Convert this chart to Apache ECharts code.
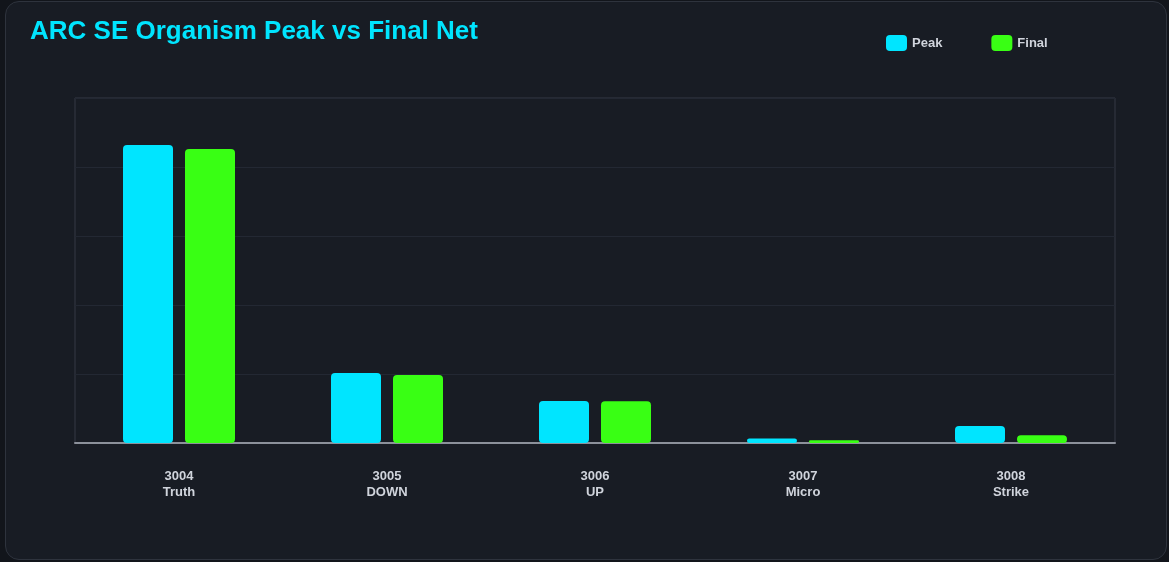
<!DOCTYPE html>
<html>
<head>
<meta charset="utf-8">
<style>
html, body {
  margin: 0;
  padding: 0;
  width: 100%;
  height: 100%;
  background: #12151b;
  overflow: hidden;
}
.card {
  position: absolute;
  left: 5px;
  top: 1px;
  width: 1160px;
  height: 557px;
  background: #181c24;
  border: 1px solid #2e333d;
  border-radius: 14px;
}
#myChart {
  position: absolute;
  left: 0;
  top: 0;
  width: 1169px;
  height: 562px;
}
</style>
<script src="https://cdn.jsdelivr.net/npm/echarts@6/dist/echarts.min.js"></script>
</head>
<body>
<div class="card"></div>
<div id="myChart"></div>
<script>
const categories = ['3004\nTruth', '3005\nDOWN', '3006\nUP', '3007\nMicro', '3008\nStrike']
const peakValues = [216, 50.7, 30.4, 3.3, 12.3]
const finalValues = [213, 49.3, 30.2, 2.0, 5.6]

let myChart = echarts.init(document.getElementById('myChart'))
myChart.setOption({
  backgroundColor: 'transparent',
  title: {
    text: 'ARC SE Organism Peak vs Final Net',
    left: 25,
    top: 14,
    textStyle: {
      color: '#00e5ff',
      fontSize: 26,
      fontWeight: 'bold',
      fontFamily: 'Liberation Sans, Arial, sans-serif'
    }
  },
  legend: {
    data: ['Peak', 'Final'],
    left: 881,
    top: 30,
    itemWidth: 21,
    itemHeight: 16,
    itemGap: 49,
    itemTextGap: 6,
    icon: 'roundRect',
    textStyle: {
      color: '#d0d4dc',
      fontSize: 13,
      fontWeight: 'bold',
      fontFamily: 'Liberation Sans, Arial, sans-serif'
    }
  },
  grid: {
    left: 75,
    right: 54,
    top: 98,
    bottom: 119,
    show: true,
    borderColor: '#343945',
    borderWidth: 1,
    backgroundColor: 'transparent'
  },
  xAxis: {
    type: 'category',
    data: categories,
    axisLine: { lineStyle: { color: '#8c919b', width: 2 } },
    axisTick: { show: false },
    axisLabel: {
      color: '#d0d4dc',
      fontSize: 13,
      fontWeight: 'bold',
      lineHeight: 16,
      margin: 25,
      fontFamily: 'Liberation Sans, Arial, sans-serif'
    }
  },
  yAxis: {
    type: 'value',
    min: 0,
    max: 250,
    interval: 50,
    axisLabel: { show: false },
    axisLine: { show: false },
    axisTick: { show: false },
    splitLine: { lineStyle: { color: '#232833', width: 1 } }
  },
  series: [
    {
      name: 'Peak',
      type: 'bar',
      data: peakValues,
      barWidth: 50,
      barGap: '24%',
      itemStyle: { color: '#00e5ff', borderRadius: 4 }
    },
    {
      name: 'Final',
      type: 'bar',
      data: finalValues,
      barWidth: 50,
      itemStyle: { color: '#39ff14', borderRadius: 4 }
    }
  ]
})
</script>
</body>
</html>
